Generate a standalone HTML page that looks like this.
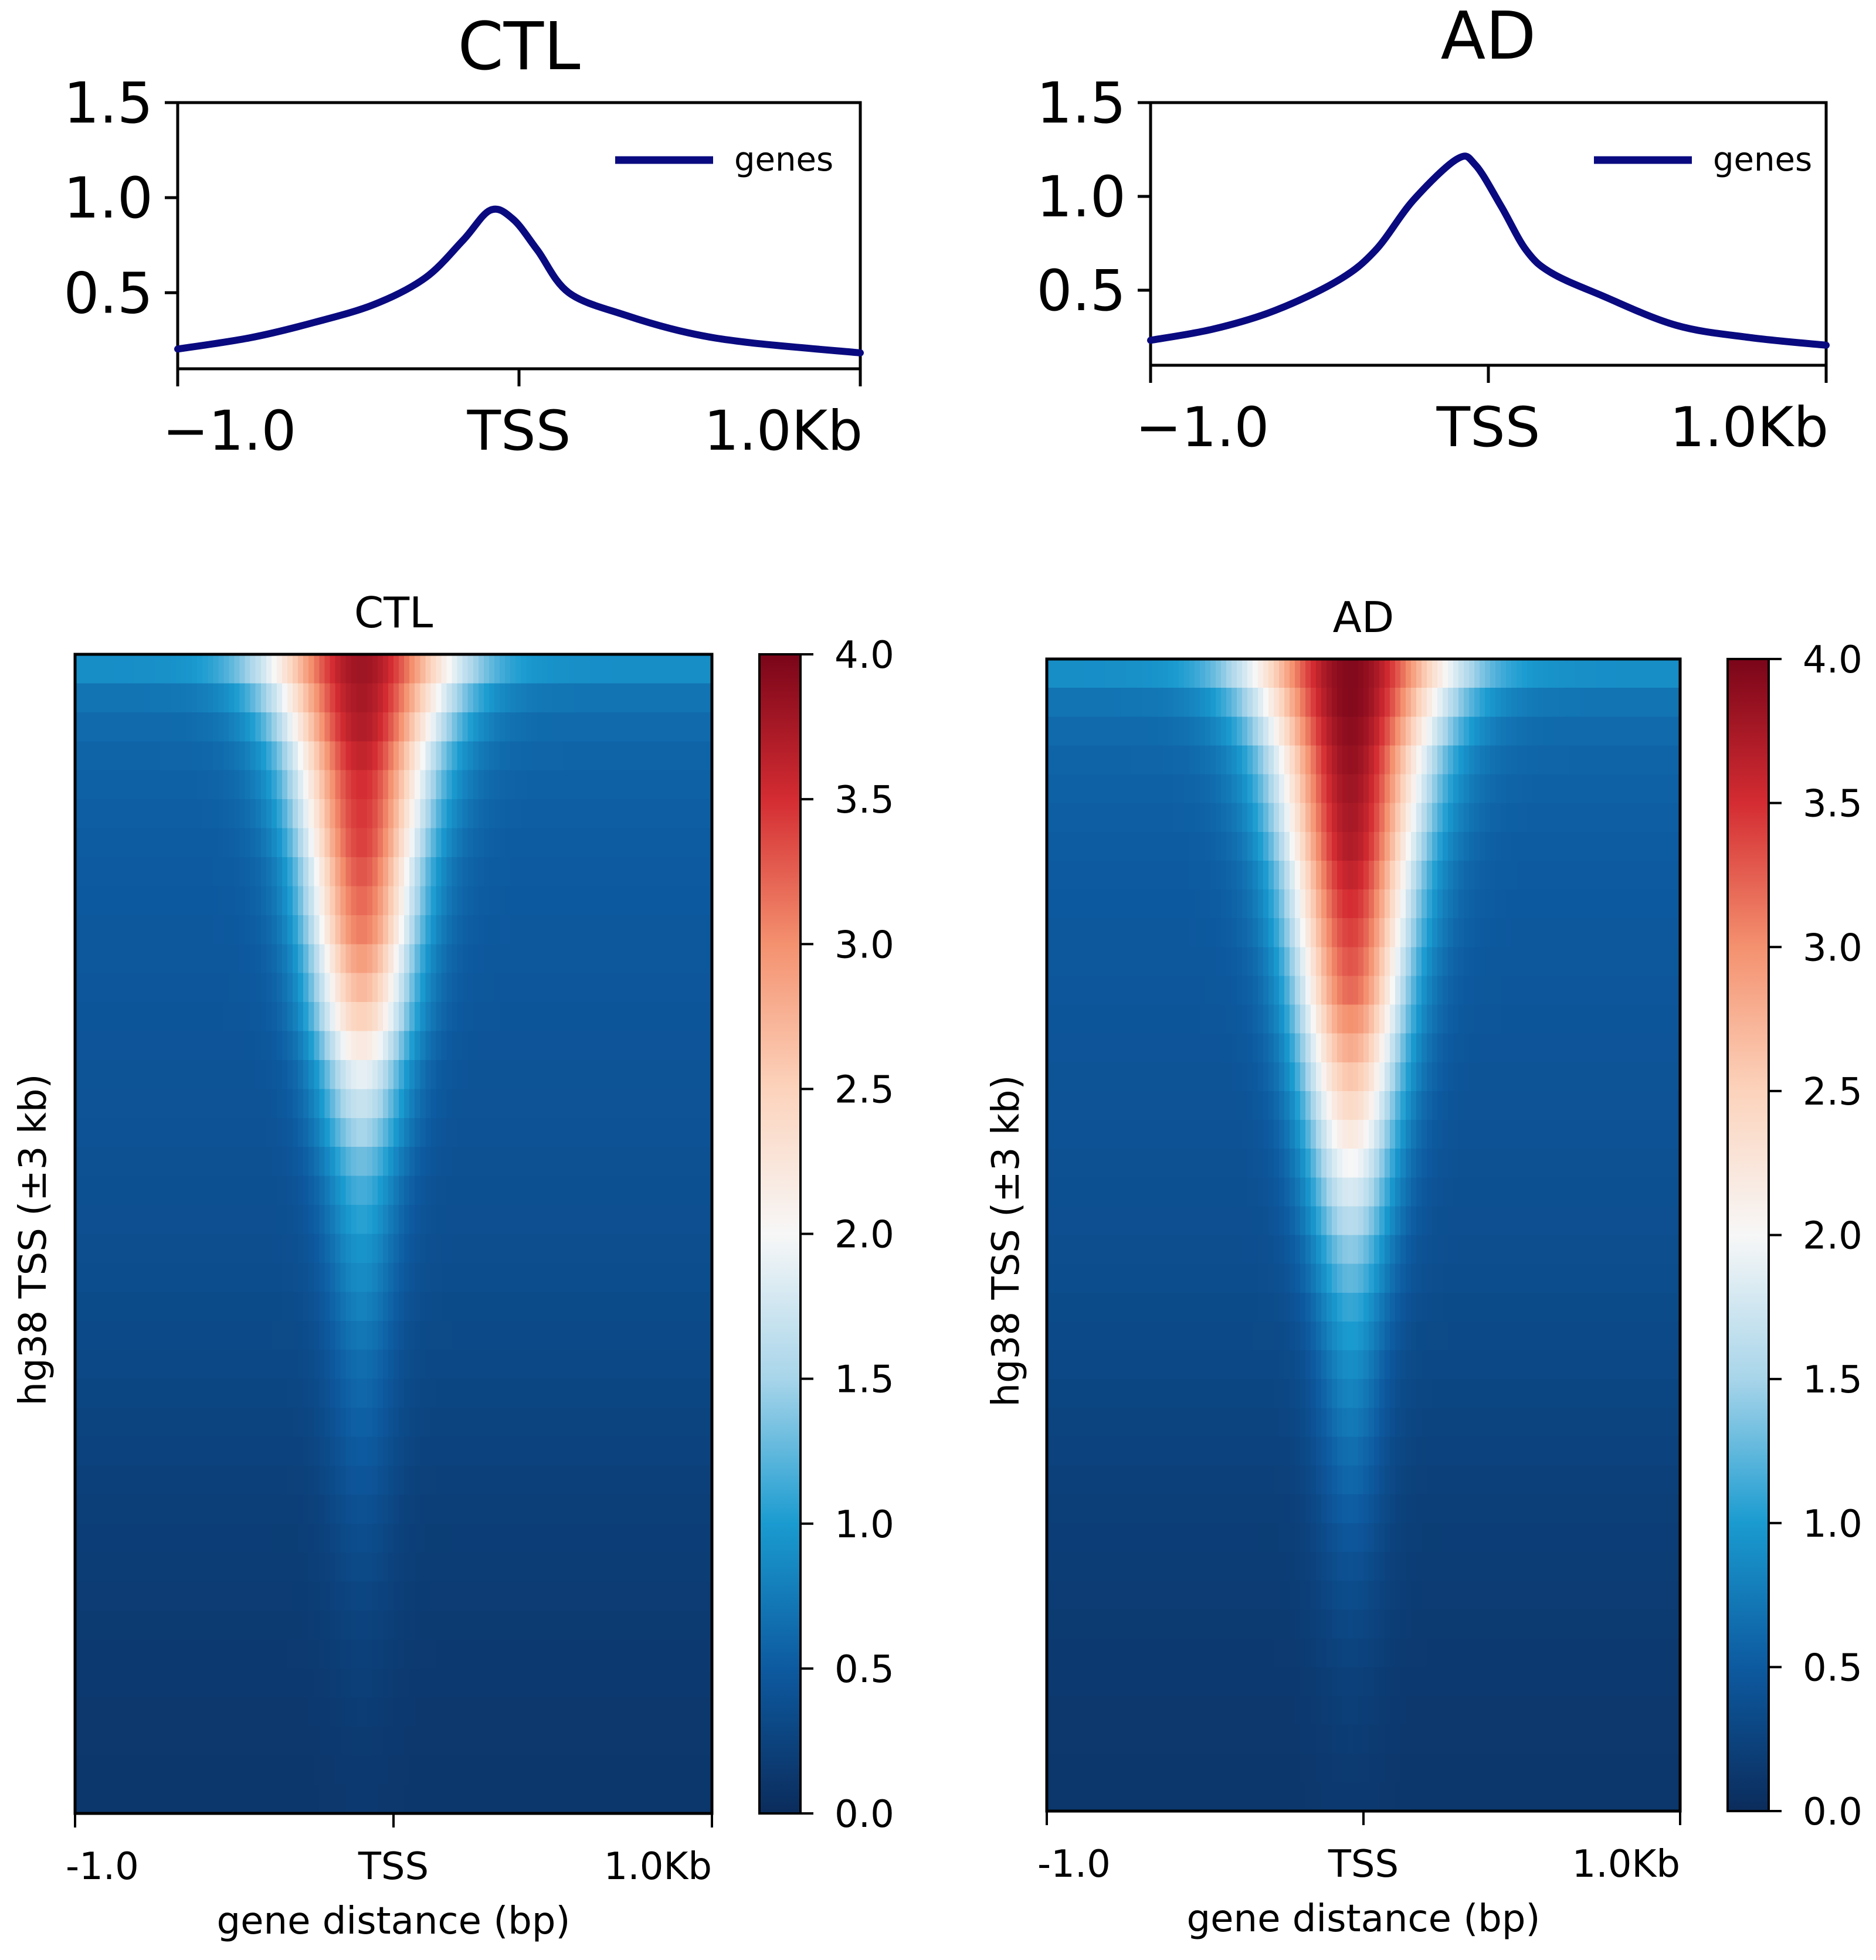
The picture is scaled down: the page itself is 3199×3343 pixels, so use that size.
<!DOCTYPE html>
<html><head><meta charset="utf-8"><style>
html,body{margin:0;padding:0;background:#fff;}
svg{display:block;font-family:"DejaVu Sans","Liberation Sans",sans-serif;}
</style></head><body>
<svg id="fig" width="3199" height="3343" viewBox="0 0 3199 3343" xmlns="http://www.w3.org/2000/svg">
<defs>
<linearGradient id="cbar" x1="0" y1="1" x2="0" y2="0">
<stop offset="0" stop-color="#0b2c5c"/><stop offset="0.125" stop-color="#0d5aa0"/>
<stop offset="0.25" stop-color="#1a9bd0"/><stop offset="0.375" stop-color="#a8d5ea"/>
<stop offset="0.5" stop-color="#f7f7f7"/><stop offset="0.625" stop-color="#fcd3bc"/>
<stop offset="0.75" stop-color="#f4916f"/><stop offset="0.875" stop-color="#d42c32"/>
<stop offset="1" stop-color="#7a0519"/></linearGradient>
</defs>
<g id="root"></g>
</svg>
<script>
// ---- profile data ----
const ctlX = [-1,-0.788,-0.604,-0.422,-0.274,-0.164,-0.084,-0.018,0.054,0.146,0.312,0.494,0.678,1];
const ctlY = [0.204,0.263,0.342,0.44,0.579,0.776,0.934,0.888,0.724,0.5,0.382,0.29,0.237,0.184];
const adX = [-1,-0.814,-0.63,-0.444,-0.334,-0.222,-0.092,-0.038,0.038,0.112,0.186,0.334,0.556,0.778,1];
const adY = [0.233,0.293,0.393,0.553,0.713,0.98,1.2,1.167,0.947,0.713,0.593,0.473,0.313,0.247,0.207];
const profileYTicks = [0.5,1.0,1.5];
const profileXTickLabels = ["\u22121.0","TSS","1.0Kb"];
const heatXTickLabels = ["-1.0","TSS","1.0Kb"];
const cbarTicks = [0,0.5,1,1.5,2,2.5,3,3.5,4];
// ---- heatmap band data (top to bottom) ----
const ctlPeak = [3.8,3.75,3.7,3.6,3.5,3.45,3.4,3.3,3.2,3.1,2.9,2.7,2.5,2.2,1.9,1.7,1.5,1.3,1.15,1.05,0.95,0.88,0.8,0.72,0.65,0.6,0.55,0.5,0.45,0.4,0.36,0.32,0.28,0.25,0.22,0.2,0.18,0.16,0.15,0.14];
const ctlWidth = [0.14,0.13,0.12,0.11,0.105,0.1,0.095,0.09,0.088,0.085,0.082,0.08,0.078,0.075,0.072,0.07,0.068,0.065,0.062,0.06,0.058,0.056,0.055,0.055,0.055,0.055,0.055,0.055,0.055,0.055,0.055,0.055,0.055,0.055,0.055,0.055,0.055,0.055,0.055,0.055];
const ctlBg = [0.9,0.7,0.62,0.58,0.55,0.53,0.51,0.5,0.49,0.48,0.47,0.46,0.45,0.44,0.43,0.42,0.41,0.4,0.39,0.38,0.37,0.36,0.34,0.32,0.3,0.28,0.26,0.24,0.22,0.2,0.19,0.18,0.17,0.16,0.15,0.14,0.13,0.13,0.12,0.12];
const adPeak = [3.95,3.95,3.9,3.85,3.8,3.75,3.7,3.6,3.5,3.4,3.3,3.2,3.0,2.8,2.6,2.4,2.2,2.0,1.8,1.6,1.4,1.25,1.1,1.0,0.9,0.82,0.74,0.66,0.6,0.53,0.46,0.4,0.35,0.3,0.26,0.22,0.2,0.18,0.16,0.15];
const adWidth = [0.15,0.14,0.13,0.12,0.115,0.11,0.105,0.1,0.097,0.094,0.09,0.087,0.085,0.082,0.08,0.077,0.075,0.072,0.07,0.068,0.065,0.063,0.06,0.058,0.056,0.055,0.055,0.055,0.055,0.055,0.055,0.055,0.055,0.055,0.055,0.055,0.055,0.055,0.055,0.055];
const adBg = [0.9,0.7,0.62,0.58,0.55,0.53,0.51,0.5,0.49,0.48,0.47,0.46,0.45,0.44,0.43,0.42,0.41,0.4,0.39,0.38,0.37,0.36,0.34,0.32,0.3,0.28,0.26,0.24,0.22,0.2,0.19,0.18,0.17,0.16,0.15,0.14,0.13,0.13,0.12,0.12];

const NS="http://www.w3.org/2000/svg";
const root=document.getElementById('root');
function mk(tag,attrs,parent){const e=document.createElementNS(NS,tag);for(const k in attrs)e.setAttribute(k,attrs[k]);(parent||root).appendChild(e);return e;}
function txt(s,attrs,parent){const e=mk('text',attrs,parent);e.textContent=s;return e;}

const stops=[[0,[11,44,92]],[0.125,[13,90,160]],[0.25,[26,155,208]],[0.375,[168,213,234]],[0.5,[247,247,247]],[0.625,[252,211,188]],[0.75,[244,145,111]],[0.875,[212,44,50]],[1,[122,5,25]]];
function cmap(v){let t=Math.max(0,Math.min(1,v/4));for(let i=1;i<stops.length;i++){if(t<=stops[i][0]){const a=stops[i-1],b=stops[i];const f=(t-a[0])/(b[0]-a[0]);const c=a[1].map((x,j)=>Math.round(x+(b[1][j]-x)*f));return `rgb(${c[0]},${c[1]},${c[2]})`;}}return 'rgb(122,5,25)';}

function smoothPath(pts){
  let d='M'+pts[0][0].toFixed(1)+','+pts[0][1].toFixed(1);
  for(let i=0;i<pts.length-1;i++){
    const p0=pts[i-1]||pts[i],p1=pts[i],p2=pts[i+1],p3=pts[i+2]||p2;
    const c1=[p1[0]+(p2[0]-p0[0])/6,p1[1]+(p2[1]-p0[1])/6];
    const c2=[p2[0]-(p3[0]-p1[0])/6,p2[1]-(p3[1]-p1[1])/6];
    d+=` C${c1[0].toFixed(1)},${c1[1].toFixed(1)} ${c2[0].toFixed(1)},${c2[1].toFixed(1)} ${p2[0].toFixed(1)},${p2[1].toFixed(1)}`;
  }
  return d;
}

function profile(cfg){
  const g=mk('g',{});
  
  
  const {x0,x1,y0,y1}=cfg;
  const sx=v=>x0+(v+1)/2*(x1-x0);
  const sy=v=>y1-(v-0.1)/1.4*(y1-y0);
  const t=txt(cfg.title,{x:(x0+x1)/2,y:cfg.titleY,'font-size':112,'text-anchor':'middle',fill:'#000'},g);
  
  
  const fr=mk('rect',{x:x0,y:y0,width:x1-x0,height:y1-y0,fill:'none',stroke:'#000','stroke-width':5},g);
  
  
  profileYTicks.forEach(v=>{
    mk('line',{x1:x0-22,x2:x0,y1:sy(v),y2:sy(v),stroke:'#000','stroke-width':5},g);
    const l=txt(v.toFixed(1),{x:x0-42,y:sy(v)+34,'font-size':96,'text-anchor':'end'},g);
    
    
  });
  [-1,0,1].forEach((v,i)=>{
    mk('line',{x1:sx(v),x2:sx(v),y1:y1,y2:y1+30,stroke:'#000','stroke-width':5},g);
    const anchor=i==0?'start':(i==1?'middle':'end');
    const xx=i==0?sx(v)-26:(i==2?sx(v)+4:sx(v));
    const l=txt(profileXTickLabels[i],{x:xx,y:cfg.xlabY,'font-size':94,'text-anchor':anchor},g);
    
    
  });
  const pts=cfg.xs.map((x,i)=>[sx(x),sy(cfg.ys[i])]);
  const p=mk('path',{d:smoothPath(pts),fill:'none',stroke:'#0a0a80','stroke-width':12,'stroke-linejoin':'round','stroke-linecap':'round'},g);
  
  
  const ll=mk('line',{x1:cfg.legX,x2:cfg.legX+167,y1:y0+98,y2:y0+98,stroke:'#0a0a80','stroke-width':13},g);
  
  
  const lt=txt('genes',{x:cfg.legX+203,y:y0+116,'font-size':56},g);
  
  
}
profile({name:'ctl-profile',title:'CTL',titleY:118,x0:303,x1:1467,y0:175,y1:629,xlabY:767,xs:ctlX,ys:ctlY,legX:1049});
profile({name:'ad-profile',title:'AD',titleY:100,x0:1962,x1:3114,y0:175,y1:623,xlabY:761,xs:adX,ys:adY,legX:2718});

function heatmap(cfg){
  const g=mk('g',{});
  
  
  const {x0,x1,y0,y1}=cfg;
  const nR=cfg.peak.length, nC=120;
  const cells=mk('g',{'shape-rendering':'crispEdges'},g);
  
  
  const rh=(y1-y0)/nR, cw=(x1-x0)/nC;
  for(let r=0;r<nR;r++){
    for(let c=0;c<nC;c++){
      const f=(c+0.5)/nC-cfg.center;
      const v=cfg.bg[r]+(cfg.peak[r]-cfg.bg[r])*Math.exp(-Math.pow(f/cfg.width[r],2));
      const e=mk('rect',{x:(x0+c*cw).toFixed(2),y:(y0+r*rh).toFixed(2),width:(cw+0.8).toFixed(2),height:(rh+0.8).toFixed(2),fill:cmap(v)},cells);
      
      
    }
  }
  const fr=mk('rect',{x:x0,y:y0,width:x1-x0,height:y1-y0,fill:'none',stroke:'#000','stroke-width':5},g);
  
  
  const t=txt(cfg.title,{x:(x0+x1)/2,y:y0-46,'font-size':72,'text-anchor':'middle'},g);
  
  
  [x0,(x0+x1)/2,x1].forEach((xx,i)=>{
    mk('line',{x1:xx,x2:xx,y1:y1,y2:y1+24,stroke:'#000','stroke-width':4},g);
    const anchor=i==0?'start':(i==1?'middle':'end');
    const l=txt(heatXTickLabels[i],{x:i==0?xx-16:xx,y:y1+112,'font-size':64,'text-anchor':anchor},g);
    
    
  });
  const xl=txt('gene distance (bp)',{x:(x0+x1)/2,y:y1+205,'font-size':64,'text-anchor':'middle'},g);
  
  
  const yl=txt('hg38 TSS (\u00b13 kb)',{x:0,y:0,'font-size':64,'text-anchor':'middle',transform:`translate(${cfg.ylabX},${(y0+y1)/2+10}) rotate(-90)`},g);
  
  
  const cb=mk('rect',{x:cfg.cbX,y:y0,width:70,height:y1-y0,fill:'url(#cbar)',stroke:'#000','stroke-width':4},g);
  
  
  cbarTicks.forEach(v=>{
    const yy=y1-v/4*(y1-y0);
    mk('line',{x1:cfg.cbX+70,x2:cfg.cbX+92,y1:yy,y2:yy,stroke:'#000','stroke-width':4},g);
    const l=txt(v.toFixed(1),{x:cfg.cbX+128,y:yy+23,'font-size':64},g);
    
    
  });
}
heatmap({name:'ctl-heatmap',title:'CTL',x0:128,x1:1214,y0:1116,y1:3093,cbX:1295,ylabX:78,center:0.45,peak:ctlPeak,width:ctlWidth,bg:ctlBg});
heatmap({name:'ad-heatmap',title:'AD',x0:1785,x1:2865,y0:1124,y1:3089,cbX:2946,ylabX:1737,center:0.48,peak:adPeak,width:adWidth,bg:adBg});
</script>
</body></html>
